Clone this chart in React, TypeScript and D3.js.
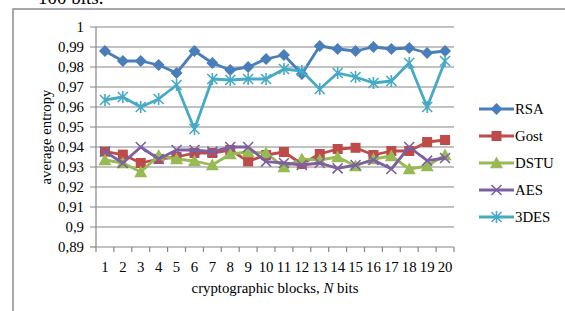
import React from "react";
import * as d3 from "d3";

const categories = ["1","2","3","4","5","6","7","8","9","10","11","12","13","14","15","16","17","18","19","20"];
const rsa = [0.988,0.983,0.983,0.981,0.977,0.988,0.982,0.9785,0.980,0.984,0.986,0.9765,0.9905,0.989,0.988,0.990,0.989,0.9895,0.987,0.988];
const gost = [0.9377,0.9362,0.932,0.934,0.935,0.937,0.937,0.9385,0.9328,0.936,0.9375,0.9315,0.9365,0.939,0.9396,0.936,0.938,0.938,0.9425,0.9435];
const dstu = [0.9335,0.932,0.9275,0.9357,0.934,0.933,0.931,0.9365,0.9375,0.937,0.930,0.934,0.9335,0.935,0.9305,0.934,0.9355,0.929,0.9305,0.936];
const aes = [0.9377,0.932,0.940,0.934,0.9385,0.9385,0.9377,0.940,0.940,0.9327,0.932,0.931,0.932,0.9293,0.931,0.9335,0.929,0.940,0.9332,0.9345];
const des3 = [0.9635,0.965,0.960,0.964,0.971,0.949,0.974,0.9735,0.974,0.974,0.979,0.978,0.969,0.977,0.975,0.972,0.973,0.982,0.960,0.983];
const yTicks = [0.89,0.9,0.91,0.92,0.93,0.94,0.95,0.96,0.97,0.98,0.99,1];

const seriesList = [
  { name: "RSA", values: rsa, color: "#4A7EBB", marker: "diamond" },
  { name: "Gost", values: gost, color: "#BE4B48", marker: "square" },
  { name: "DSTU", values: dstu, color: "#98B954", marker: "triangle" },
  { name: "AES", values: aes, color: "#7D60A0", marker: "x" },
  { name: "3DES", values: des3, color: "#46AAC5", marker: "star" },
];

const FONT = "'Liberation Serif', 'Times New Roman', serif";
const FS = 14.8;

function Marker({ type, x, y, color }: { type: string; x: number; y: number; color: string }) {
  if (type === "diamond") {
    const s = 6;
    return <path d={`M${x},${y - s}L${x + s},${y}L${x},${y + s}L${x - s},${y}Z`} fill={color} />;
  }
  if (type === "square") {
    const s = 5;
    return <rect x={x - s} y={y - s} width={2 * s} height={2 * s} fill={color} />;
  }
  if (type === "triangle") {
    const s = 6.5;
    return <path d={`M${x},${y - s}L${x + s},${y + s * 0.8}L${x - s},${y + s * 0.8}Z`} fill={color} />;
  }
  if (type === "x") {
    const s = 5;
    return (
      <path d={`M${x - s},${y - s}L${x + s},${y + s}M${x - s},${y + s}L${x + s},${y - s}`} stroke={color} strokeWidth={1.6} fill="none" />
    );
  }
  const s = 5;
  return (
    <path
      d={`M${x - s},${y - s}L${x + s},${y + s}M${x - s},${y + s}L${x + s},${y - s}M${x},${y - s - 1}L${x},${y + s + 1}`}
      stroke={color}
      strokeWidth={1.6}
      fill="none"
    />
  );
}

export default function App() {
  const W = 565, H = 311;
  const left = 96, right = 454, top = 27, bottom = 247;
  const x = d3.scaleBand<string>().domain(categories).range([left, right]).padding(0);
  const y = d3.scaleLinear().domain([0.89, 1]).range([bottom, top]);
  const cx = (c: string) => (x(c) as number) + x.bandwidth() / 2;
  const line = d3
    .line<number>()
    .x((_, i) => cx(categories[i]))
    .y((d) => y(d));

  const boundaries = categories.map((c) => x(c) as number).concat([right]);

  return (
    <svg width={W} height={H} style={{ position: "absolute", left: 0, top: 0 }}>
      <rect x={0} y={0} width={W} height={H} fill="#fff" />
      <text x={38} y={4} fontFamily={FONT} fontSize={19} fill="#000">100 bits.</text>
      <rect x={13} y={9} width={700} height={400} fill="none" stroke="#8c8c8c" strokeWidth={1.5} />

      {yTicks.map((t) => (
        <g key={t}>
          <line x1={90} x2={t === 0.89 ? left : right} y1={y(t)} y2={y(t)} stroke="#868686" strokeWidth={1.2} />
          <text x={84} y={y(t)} dy="0.35em" textAnchor="end" fontFamily={FONT} fontSize={FS} fill="#000">
            {String(t).replace(".", ",")}
          </text>
        </g>
      ))}
      <line x1={left} x2={right} y1={bottom} y2={bottom} stroke="#868686" strokeWidth={1.2} />
      <line x1={left} x2={left} y1={top} y2={bottom} stroke="#868686" strokeWidth={1.2} />
      {boundaries.map((b, i) => (
        <line key={i} x1={b} x2={b} y1={bottom} y2={bottom + 5} stroke="#868686" strokeWidth={1.2} />
      ))}
      {categories.map((c) => (
        <text key={c} x={cx(c)} y={272} textAnchor="middle" fontFamily={FONT} fontSize={FS} fill="#000">
          {c}
        </text>
      ))}
      <text x={275} y={293} textAnchor="middle" fontFamily={FONT} fontSize={FS} fill="#000">
        cryptographic blocks, <tspan fontStyle="italic">N</tspan> bits
      </text>
      <text
        transform={`translate(51,137) rotate(-90)`}
        textAnchor="middle"
        fontFamily={FONT}
        fontSize={FS}
        fill="#000"
      >
        average entropy
      </text>

      {seriesList.map((s) => (
        <g key={s.name}>
          <path d={line(s.values) || ""} fill="none" stroke={s.color} strokeWidth={2.8} strokeLinejoin="round" />
          {s.values.map((v, i) => (
            <Marker key={i} type={s.marker} x={cx(categories[i])} y={y(v)} color={s.color} />
          ))}
        </g>
      ))}

      {seriesList.map((s, i) => {
        const ly = 109 + i * 27;
        return (
          <g key={s.name}>
            <line x1={479} x2={514} y1={ly} y2={ly} stroke={s.color} strokeWidth={2.8} />
            <Marker type={s.marker} x={496.5} y={ly} color={s.color} />
            <text x={515} y={ly} dy="0.35em" fontFamily={FONT} fontSize={FS} fill="#000">
              {s.name}
            </text>
          </g>
        );
      })}
    </svg>
  );
}
